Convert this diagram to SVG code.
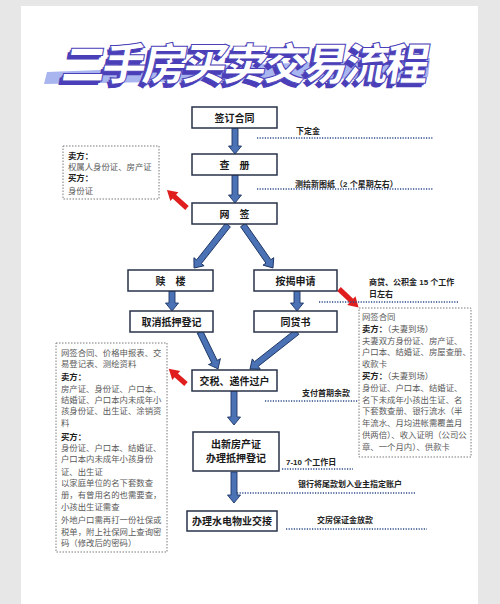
<svg xmlns="http://www.w3.org/2000/svg" width="500" height="604" viewBox="0 0 500 604">
<defs>
<style>
.node rect{fill:#fff;stroke:#27324a;stroke-width:1.5}
.node text{font-family:"Liberation Sans","Noto Sans CJK SC",sans-serif;font-size:10px;font-weight:700;fill:#1a1a1a;text-anchor:middle}
.ba{fill:#4a72b5;stroke:#1d3566;stroke-width:0.9}
.ra{fill:#e01e1e;stroke:none}
.dot{stroke:#2b4a8a;stroke-width:1.3;stroke-dasharray:1.2 1.4;fill:none}
.note rect{fill:#fff;stroke:#7a7a7a;stroke-width:1;stroke-dasharray:1.5 1.5}
.note text{font-family:"Liberation Serif","Noto Sans CJK SC",serif;font-size:8.4px;fill:#5a5a5a}
.note .b{font-weight:700;fill:#222}
.lbl{font-family:"Liberation Sans","Noto Sans CJK SC",sans-serif;font-size:8px;font-weight:700;fill:#222}
.title{font-family:"Noto Sans CJK SC",sans-serif;font-size:44px;font-weight:900}
</style>
</defs>
<rect x="0" y="0" width="500" height="604" fill="#e7e7e7"/>
<rect x="21" y="6" width="457" height="600" fill="#ffffff"/>

<g id="title">
<polygon points="47,72 430,58 428,77 44,84" fill="#a8b5ef"/>
<g transform="translate(60,80) skewX(-10)">
<text class="title" x="-3" y="4" textLength="367" lengthAdjust="spacing" fill="#4a3fb8">二手房买卖交易流程</text>
<text class="title" x="-1.5" y="2" textLength="367" lengthAdjust="spacing" fill="#4a3fb8">二手房买卖交易流程</text>
<text class="title" x="0" y="0" textLength="367" lengthAdjust="spacing" fill="#ffffff" stroke="#4a3fb8" stroke-width="1">二手房买卖交易流程</text>
</g>
</g>

<g id="connectors">
<path class="ba" d="M0,-3 L18,-3 L18,-6.5 L26,0 L18,6.5 L18,3 L0,3 Z" transform="translate(235,128) rotate(90)"/>
<path class="ba" d="M0,-3 L20,-3 L20,-6.5 L28,0 L20,6.5 L20,3 L0,3 Z" transform="translate(235,175) rotate(90)"/>
<path class="ba" d="M0,-3 L46.8,-3 L46.8,-6.5 L54.8,0 L46.8,6.5 L46.8,3 L0,3 Z" transform="translate(228,225) rotate(128.3)"/>
<path class="ba" d="M0,-3 L44.4,-3 L44.4,-6.5 L52.4,0 L44.4,6.5 L44.4,3 L0,3 Z" transform="translate(243,225) rotate(55.1)"/>
<path class="ba" d="M0,-3 L12,-3 L12,-6.5 L20,0 L12,6.5 L12,3 L0,3 Z" transform="translate(172,291) rotate(90)"/>
<path class="ba" d="M0,-3 L12,-3 L12,-6.5 L20,0 L12,6.5 L12,3 L0,3 Z" transform="translate(297,291) rotate(90)"/>
<path class="ba" d="M0,-3 L33.1,-3 L33.1,-6.5 L41.1,0 L33.1,6.5 L33.1,3 L0,3 Z" transform="translate(200,332) rotate(64)"/>
<path class="ba" d="M0,-3 L51.8,-3 L51.8,-6.5 L59.8,0 L51.8,6.5 L51.8,3 L0,3 Z" transform="translate(297,332) rotate(141.8)"/>
<path class="ba" d="M0,-3 L26,-3 L26,-6.5 L34,0 L26,6.5 L26,3 L0,3 Z" transform="translate(234,391) rotate(90)"/>
<path class="ba" d="M0,-3 L23,-3 L23,-6.5 L31,0 L23,6.5 L23,3 L0,3 Z" transform="translate(234,472) rotate(90)"/>

<path class="ra" d="M0,-2.6 L17,-2.6 L17,-6 L27,0 L17,6 L17,2.6 L0,2.6 Z" transform="translate(187,208) rotate(-138)"/>
<path class="ra" d="M0,-2.6 L17,-2.6 L17,-6 L27,0 L17,6 L17,2.6 L0,2.6 Z" transform="translate(339,289) rotate(43.5)"/>
<path class="ra" d="M0,-2.6 L13,-2.6 L13,-6 L23,0 L13,6 L13,2.6 L0,2.6 Z" transform="translate(186,384) rotate(-138.6)"/>

<line class="dot" x1="257" y1="138" x2="433" y2="138"/>
<line class="dot" x1="257" y1="189" x2="433" y2="189"/>
<line class="dot" x1="319" y1="302" x2="458" y2="302"/>
<line class="dot" x1="265" y1="401" x2="358" y2="401"/>
<line class="dot" x1="282" y1="469" x2="353" y2="469"/>
<line class="dot" x1="237" y1="493" x2="415" y2="493"/>
<line class="dot" x1="286" y1="529" x2="427" y2="529"/>
</g>

<g id="labels">
<text class="lbl" x="296" y="134">下定金</text>
<text class="lbl" x="295" y="187">测绘新图纸（2 个星期左右）</text>
<text class="lbl" x="369" y="285">商贷、公积金 15 个工作</text>
<text class="lbl" x="369" y="297">日左右</text>
<text class="lbl" x="302" y="396">支付首期余款</text>
<text class="lbl" x="286" y="465">7-10 个工作日</text>
<text class="lbl" x="298" y="487">银行将尾款划入业主指定账户</text>
<text class="lbl" x="317" y="523">交房保证金放款</text>
</g>

<g id="n-sign" class="node"><rect x="192" y="107" width="85" height="21"/><text x="234.5" y="121.5">签订合同</text></g>
<g id="n-check" class="node"><rect x="192" y="154" width="85" height="21"/><text x="234.5" y="168.5">查　册</text></g>
<g id="n-online" class="node"><rect x="192" y="203" width="85" height="21"/><text x="234.5" y="217.5">网　签</text></g>
<g id="n-redeem" class="node"><rect x="128" y="270" width="85" height="21"/><text x="170.5" y="284.5">赎　楼</text></g>
<g id="n-mortgage" class="node"><rect x="254" y="270" width="83" height="21"/><text x="295.5" y="284.5">按揭申请</text></g>
<g id="n-cancel" class="node"><rect x="130" y="311" width="83" height="21"/><text x="171.5" y="325.5">取消抵押登记</text></g>
<g id="n-loan" class="node"><rect x="254" y="311" width="83" height="21"/><text x="295.5" y="325.5">同贷书</text></g>
<g id="n-tax" class="node"><rect x="192" y="370" width="85" height="21"/><text x="234.5" y="384.5">交税、递件过户</text></g>
<g id="n-cert" class="node"><rect x="193" y="432" width="86" height="39"/><text x="236" y="448">出新房产证</text><text x="236" y="462">办理抵押登记</text></g>
<g id="n-handover" class="node"><rect x="187" y="511" width="90" height="20"/><text x="232" y="525">办理水电物业交接</text></g>

<g id="note1" class="note">
<rect x="63" y="146" width="96" height="53"/>
<text x="68" y="159" class="b">卖方：</text>
<text x="68" y="170">权属人身份证、房产证</text>
<text x="68" y="181" class="b">买方：</text>
<text x="68" y="194">身份证</text>
</g>

<g id="note2" class="note">
<rect x="359" y="308" width="112" height="149"/>
<text x="362" y="320">网签合同</text>
<text x="362" y="332"><tspan class="b">卖方：</tspan>（夫妻到场）</text>
<text x="362" y="344">夫妻双方身份证、房产证、</text>
<text x="362" y="355">户口本、结婚证、房屋查册、</text>
<text x="362" y="367">收款卡</text>
<text x="362" y="379"><tspan class="b">买方：</tspan>（夫妻到场）</text>
<text x="362" y="391">身份证、户口本、结婚证、</text>
<text x="362" y="403">名下未成年小孩出生证、名</text>
<text x="362" y="414">下套数查册、银行流水（半</text>
<text x="362" y="426">年流水、月均进帐需覆盖月</text>
<text x="362" y="438">供两倍）、收入证明（公司公</text>
<text x="362" y="450">章、一个月内）、供款卡</text>
</g>

<g id="note3" class="note">
<rect x="56" y="343" width="111" height="209"/>
<text x="61" y="356">网签合同、价格申报表、交</text>
<text x="61" y="367">易登记表、测绘资料</text>
<text x="61" y="380" class="b">卖方：</text>
<text x="61" y="392">房产证、身份证、户口本、</text>
<text x="61" y="403">结婚证、户口本内未成年小</text>
<text x="61" y="414">孩身份证、出生证、涂销资</text>
<text x="61" y="426">料</text>
<text x="61" y="440" class="b">买方：</text>
<text x="61" y="451">身份证、户口本、结婚证、</text>
<text x="61" y="462">户口本内未成年小孩身份</text>
<text x="61" y="475">证、出生证</text>
<text x="61" y="486">以家庭单位的名下套数查</text>
<text x="61" y="498">册，有曾用名的也需要查，</text>
<text x="61" y="510">小孩出生证需查</text>
<text x="61" y="523">外地户口需再打一份社保或</text>
<text x="61" y="535">税单，附上社保网上查询密</text>
<text x="61" y="546">码（修改后的密码）</text>
</g>
</svg>
